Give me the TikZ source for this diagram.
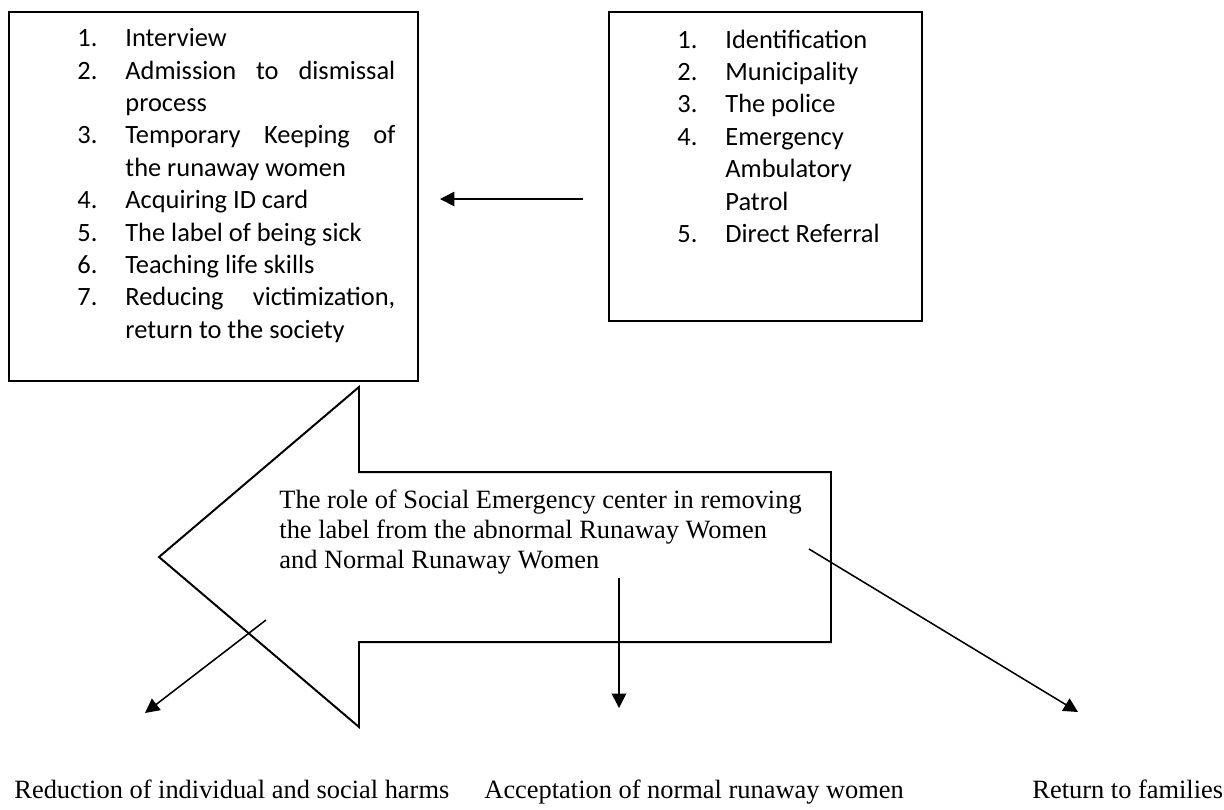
\documentclass[tikz,border=0pt]{standalone}
\usepackage{fontspec}
\setmainfont{Liberation Serif}
\newfontfamily\calibri{Carlito}
\usetikzlibrary{arrows.meta}

\newlength{\numw}
\setlength{\numw}{21.8pt}
\newcommand{\litem}[2]{\par\hangindent=\numw\hangafter=1\noindent\makebox[\numw][l]{#1}#2}

\begin{document}
\begin{tikzpicture}[x=0.4545pt,y=-0.4545pt,
		box/.style = {draw,line width=0.9pt,inner sep=0pt,anchor=north west},
		list/.style = {inner sep=0pt,anchor=base west,font=\calibri\fontsize{12}{14.73}\selectfont},
		lbl/.style = {inner sep=0pt,anchor=base west,font=\fontsize{12}{13.64}\selectfont},
		arr/.style = {line width=0.7pt,-{Triangle[length=6.5pt,width=6.5pt]}}]
			\useasboundingbox (0,0) rectangle (1224,809);
			% the two boxes
			\node (Bl) at (8,11) [box,minimum width=185.9pt,minimum height=167.7pt] {};
			\node (Br) at (608,11) [box,minimum width=142.3pt,minimum height=140.4pt] {};
			\node (Ll) at (77,46.7) [list] {\begin{minipage}[t]{144.5pt}\hyphenpenalty=10000\tolerance=10000
				\litem{1.}{Interview}
				\litem{2.}{Admission to dismissal process}
				\litem{3.}{Temporary Keeping of the runaway women}
				\litem{4.}{Acquiring ID card}
				\litem{5.}{The label of being sick}
				\litem{6.}{Teaching life skills}
				\litem{7.}{Reducing victimization, return to the society}
			\end{minipage}};
			\node (Lr) at (677,48) [list] {\begin{minipage}[t]{101.3pt}\raggedright\hyphenpenalty=10000
				\litem{1.}{Identification}
				\litem{2.}{Municipality}
				\litem{3.}{The police}
				\litem{4.}{Emergency Ambulatory Patrol}
				\litem{5.}{Direct Referral}
			\end{minipage}};
			\coordinate (a1) at (583,199);
			\coordinate (a2) at (440,199);
			\draw      [arr] (a1) -- (a2);
			% big arrow pointing left
			\draw[line width=0.9pt] (359,387) -- (359,472) -- (831,472) -- (831,642) -- (359,642) -- (359,727) -- (159,557) -- cycle;
			\node (T) at (279,508) [lbl] {\begin{minipage}[t]{260pt}
				The role of Social Emergency center in removing\\
				the label from the abnormal Runaway Women\\
				and Normal Runaway Women
			\end{minipage}};
			% outcomes
			\coordinate (s1) at (266,620);
			\coordinate (e1) at (145,713);
			\coordinate (s2) at (619,578);
			\coordinate (e2) at (619,708);
			\coordinate (s3) at (809,549);
			\coordinate (e3) at (1078,712);
			\draw      [arr] (s1) -- (e1);
			\draw      [arr] (s2) -- (e2);
			\draw      [arr] (s3) -- (e3);
			\node (O1) at (14,798) [lbl] {Reduction of individual and social harms};
			\node (O2) at (484,798) [lbl] {Acceptation of normal runaway women};
			\node (O3) at (1032,798) [lbl] {Return to families};
		\end{tikzpicture}
\end{document}
